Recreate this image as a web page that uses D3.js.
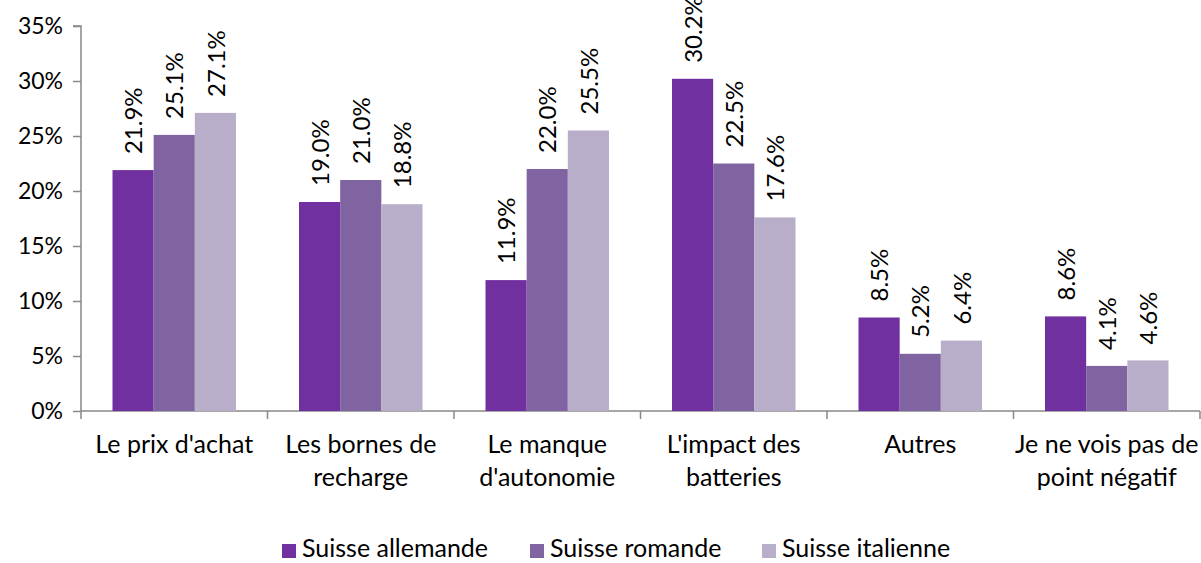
<!DOCTYPE html>
<html>
<head>
<meta charset="utf-8">
<script src="https://cdn.jsdelivr.net/npm/d3@7"></script>
<style>
  body { margin: 0; background: #fff; }
  text { font-family: Lato, "Open Sans", sans-serif; fill: #000; }
</style>
</head>
<body>
<div id="chart"></div>
<script>
// categories (one or two lines each) and series
const categories = [
  ["Le prix d'achat"],
  ["Les bornes de", "recharge"],
  ["Le manque", "d'autonomie"],
  ["L'impact des", "batteries"],
  ["Autres"],
  ["Je ne vois pas de", "point négatif"]
];
const seriesNames = ["Suisse allemande", "Suisse romande", "Suisse italienne"];
const allemande = [21.9, 19.0, 11.9, 30.2, 8.5, 8.6];
const romande = [25.1, 21.0, 22.0, 22.5, 5.2, 4.1];
const italienne = [27.1, 18.8, 25.5, 17.6, 6.4, 4.6];
const yTicks = [0, 5, 10, 15, 20, 25, 30, 35];

const colors = ["#7030a0", "#8064a2", "#b9aec9"];
const series = [allemande, romande, italienne];

const width = 1201, height = 563;
const margin = {left: 81, right: 1, top: 26, bottom: 152};

const svg = d3.select('#chart').append('svg')
  .attr('width', width)
  .attr('height', height);

const scaleX = d3.scaleBand()
  .domain(d3.range(categories.length))
  .range([margin.left, width - margin.right])
  .paddingInner(0)
  .paddingOuter(0);

const scaleY = d3.scaleLinear()
  .domain([0, 35])
  .range([height - margin.bottom, margin.top]);

// inner band for the 3 bars of a group
const groupPad = 31.5;
const scaleS = d3.scaleBand()
  .domain(d3.range(seriesNames.length))
  .range([groupPad, scaleX.bandwidth() - groupPad]);

// y axis
const axisY = d3.axisLeft(scaleY)
  .tickValues(yTicks)
  .tickFormat(d => d + '%')
  .tickSize(8)
  .tickPadding(10);
const gy = svg.append('g')
  .attr('transform', `translate(${margin.left},0)`)
  .call(axisY);
gy.selectAll('path, line').attr('stroke', '#888').attr('stroke-width', 1.5);
gy.select('.domain').attr('d', `M-8,${scaleY(35)}H0V${scaleY(0)}`);
gy.selectAll('text').attr('font-size', 23).style('font-family', 'Lato');

// x axis line with ticks at band edges
const gx = svg.append('g');
const y0 = scaleY(0);
gx.append('line')
  .attr('x1', margin.left).attr('x2', width - margin.right)
  .attr('y1', y0).attr('y2', y0)
  .attr('stroke', '#888').attr('stroke-width', 1.5);
const edges = d3.range(categories.length + 1).map(i =>
  i < categories.length ? scaleX(i) : scaleX(i - 1) + scaleX.bandwidth());
gx.selectAll('.xtick')
  .data(edges)
  .enter()
  .append('line')
  .attr('x1', d => d).attr('x2', d => d)
  .attr('y1', y0).attr('y2', y0 + 8)
  .attr('stroke', '#888').attr('stroke-width', 1.5);

// category labels
const catLabels = svg.append('g').selectAll('text')
  .data(categories)
  .enter()
  .append('text')
  .attr('text-anchor', 'middle')
  .attr('font-size', 25)
  .attr('x', (d, i) => scaleX(i) + scaleX.bandwidth() / 2)
  .attr('y', 453);
catLabels.selectAll('tspan')
  .data(d => d)
  .enter()
  .append('tspan')
  .attr('x', function () { return d3.select(this.parentNode).attr('x'); })
  .attr('dy', (d, i) => i === 0 ? 0 : 32.5)
  .text(d => d);

// bars and labels
series.forEach((values, s) => {
  const g = svg.append('g');
  g.selectAll('rect')
    .data(values)
    .enter()
    .append('rect')
    .attr('x', (d, i) => scaleX(i) + scaleS(s))
    .attr('width', scaleS.bandwidth())
    .attr('y', d => scaleY(d))
    .attr('height', d => scaleY(0) - scaleY(d))
    .attr('fill', colors[s]);

  g.selectAll('text')
    .data(values)
    .enter()
    .append('text')
    .attr('font-size', 24)
    .attr('text-anchor', 'start')
    .attr('dy', '0.38em')
    .attr('transform', (d, i) => {
      const cx = scaleX(i) + scaleS(s) + scaleS.bandwidth() / 2;
      return `translate(${cx},${scaleY(d) - 16}) rotate(-90)`;
    })
    .text(d => d.toFixed(1) + '%');
});

// legend
const legendX = [282, 530, 762];
const legend = svg.append('g');
seriesNames.forEach((name, i) => {
  legend.append('rect')
    .attr('x', legendX[i]).attr('y', 544)
    .attr('width', 14).attr('height', 14)
    .attr('fill', colors[i]);
  legend.append('text')
    .attr('x', legendX[i] + 20).attr('y', 557)
    .attr('font-size', 25)
    .text(name);
});
</script>
</body>
</html>
